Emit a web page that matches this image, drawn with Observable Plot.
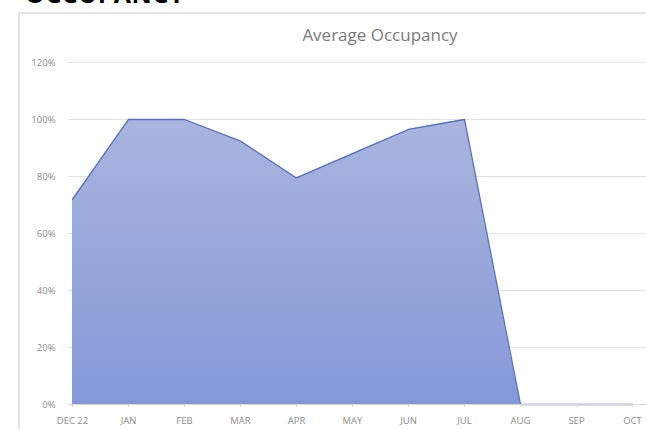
<!DOCTYPE html>
<html>
<head>
<meta charset="utf-8">
<script src="https://cdn.jsdelivr.net/npm/d3@7"></script>
<script src="https://cdn.jsdelivr.net/npm/@observablehq/plot@0.6"></script>
<style>
  html, body { margin: 0; padding: 0; background: #fff; overflow: hidden; }
  #wrap { position: relative; width: 646px; height: 429px; overflow: hidden; background: #fff; }
  #heading { position: absolute; left: 25px; top: -19px; font: 700 25px "Open Sans", sans-serif; line-height: 25px; color: #000; letter-spacing: 0.5px; white-space: nowrap; }
  #frame { position: absolute; left: 18px; top: 12px; width: 700px; height: 500px; border-left: 2px solid #e3e3e3; border-top: 2px solid #e3e3e3; }
  #title { position: absolute; left: 0; width: 760px; top: 23px; text-align: center; font: 400 17px "Open Sans", sans-serif; color: #7a7a7a; }
  #chart { position: absolute; left: 0; top: 0; }
</style>
</head>
<body>
<div id="wrap">
  <div id="heading">OCCUPANCY</div>
  <div id="frame"></div>
  <div id="title">Average Occupancy</div>
  <div id="chart"></div>
</div>
<script>
const months = ["DEC 22", "JAN", "FEB", "MAR", "APR", "MAY", "JUN", "JUL", "AUG", "SEP", "OCT"];
const occupancy = [0.72, 1.0, 1.0, 0.924, 0.795, 0.88, 0.965, 1.0, 0, 0, 0];
const yTicks = [0, 0.2, 0.4, 0.6, 0.8, 1.0, 1.2];

const data = months.map((m, i) => ({month: m, value: occupancy[i]}));

const plot = Plot.plot({
  width: 646,
  height: 429,
  marginLeft: 68,
  marginRight: 0,
  insetRight: 11,
  marginTop: 62,
  marginBottom: 25,
  style: {fontFamily: "'Open Sans', sans-serif", fontSize: "9.5px", color: "#8c8c8c", background: "transparent"},
  x: {type: "point", domain: months, padding: 0, label: null},
  y: {domain: [0, 1.2], label: null},
  marks: [
    Plot.ruleY(yTicks.filter(d => d > 0), {stroke: "#e3e3e3", strokeWidth: 1.2}),
    Plot.areaY(data, {x: "month", y: "value", fill: "url(#occGrad)"}),
    Plot.lineY(data, {x: "month", y: "value", stroke: "#5470bd", strokeWidth: 1.3}),
    Plot.ruleY([0], {stroke: "#d6d6d6", strokeWidth: 1.2}),
    Plot.axisX({tickSize: 3, tickPadding: 10, stroke: "#dcdcdc", color: "#8c8c8c"}),
    Plot.axisY({ticks: yTicks, tickFormat: d => Math.round(d * 100) + "%", tickSize: 0, tickPadding: 13, color: "#8c8c8c"})
  ]
});

d3.select(plot).insert("defs", ":first-child").html(
  '<linearGradient id="occGrad" x1="0" y1="119" x2="0" y2="404" gradientUnits="userSpaceOnUse">' +
  '<stop offset="0" stop-color="#a9b5de"/>' +
  '<stop offset="1" stop-color="#8599d8"/>' +
  '</linearGradient>'
);

document.getElementById("chart").appendChild(plot);
</script>
</body>
</html>
